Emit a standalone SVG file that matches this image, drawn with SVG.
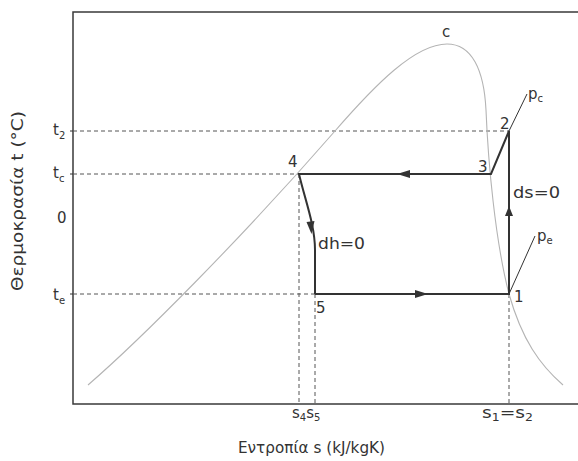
<svg xmlns="http://www.w3.org/2000/svg" width="578" height="461" viewBox="0 0 578 461">
<style>
text{font-family:"DejaVu Sans","Liberation Sans",Arial,sans-serif;fill:#333;font-size:15px}
.sub{font-size:10px}
.frame{fill:none;stroke:#3a3a3a;stroke-width:1.5}
.dash{fill:none;stroke:#555;stroke-width:1;stroke-dasharray:4 3}
.dome{fill:none;stroke:#b4b4b4;stroke-width:1.1}
.cyc{fill:none;stroke:#333;stroke-width:2}
.thin{fill:none;stroke:#333;stroke-width:1}
.arr{fill:#333}
</style>
<rect width="578" height="461" fill="#fff"/>
<g id="axes">
<path class="frame" d="M578,12 H73 V404 H578"/>
<path class="thin" d="M70,131 H73 M70,174 H73 M70,294 H73"/>
<text x="238" y="453" font-size="14" textLength="147" lengthAdjust="spacingAndGlyphs">Εντροπία s (kJ/kgK)</text>
<text transform="translate(23,201) rotate(-90)" text-anchor="middle" font-size="14" textLength="180" lengthAdjust="spacingAndGlyphs">Θερμοκρασία t (°C)</text>
<text x="53" y="135">t<tspan class="sub" dy="4">2</tspan></text>
<text x="53" y="178">t<tspan class="sub" dy="4">c</tspan></text>
<text x="57" y="223">0</text>
<text x="53" y="300">t<tspan class="sub" dy="4">e</tspan></text>
<text x="292" y="418">s<tspan class="sub" dy="3">4</tspan><tspan dy="-3">s</tspan><tspan class="sub" dy="3">5</tspan></text>
<text x="482" y="418" textLength="51" lengthAdjust="spacingAndGlyphs">s<tspan class="sub" dy="3">1</tspan><tspan dy="-3">=s</tspan><tspan class="sub" dy="3">2</tspan></text>
</g>
<g id="guides">
<path class="dash" d="M73,131 H509 M73,174 H299 M73,294 H315 M299,174 V404 M315,294 V404 M509,294 V404"/>
</g>
<g id="dome">
<path class="dome" d="M88,385 C140,340 240,240 335,131 C375,85 415,44 447,44 C472,44 484,70 486,110 C488,160 495,240 509,294 C522,340 540,365 563,385"/>
<text x="442" y="37">c</text>
</g>
<g id="connectors">
<path class="cyc" d="M315,294 H509 V131 L491,174 H299 C305,200 315,225 315,250 V294"/>
<path class="thin" d="M509,131 L527,94 M509,294 L535,236"/>
<path class="arr" d="M397,174 L410,170 L410,178 Z"/>
<path class="arr" d="M428,294 L415,290 L415,298 Z"/>
<path class="arr" d="M509,206 L505,216 L513,216 Z"/>
<path class="arr" d="M311.5,234 L306.5,222 L314.5,221 Z"/>
</g>
<g id="n1"><text x="514" y="302">1</text></g>
<g id="n2"><text x="500" y="129">2</text></g>
<g id="n3"><text x="478" y="172">3</text></g>
<g id="n4"><text x="288" y="167">4</text></g>
<g id="n5"><text x="316" y="313">5</text></g>
<g id="labels">
<text x="528" y="99">p<tspan class="sub" dy="3">c</tspan></text>
<text x="537" y="241">p<tspan class="sub" dy="3">e</tspan></text>
<text x="513" y="198" font-size="16" textLength="47" lengthAdjust="spacingAndGlyphs">ds=0</text>
<text x="318" y="249" font-size="16" textLength="47" lengthAdjust="spacingAndGlyphs">dh=0</text>
</g>
</svg>
